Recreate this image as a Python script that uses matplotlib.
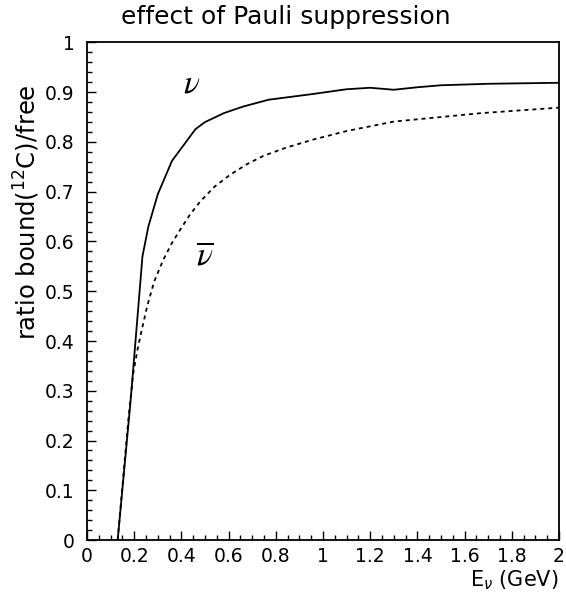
import matplotlib
matplotlib.use("Agg")
import matplotlib.pyplot as plt
from matplotlib.ticker import MultipleLocator, FuncFormatter

# neutrino curve (solid)
nu_E = [0.13, 0.185, 0.235, 0.26, 0.30, 0.36, 0.46, 0.50, 0.58, 0.66, 0.77,
        0.95, 1.10, 1.20, 1.30, 1.40, 1.50, 1.70, 2.00]
nu_R = [0.0, 0.281, 0.570, 0.630, 0.695, 0.762, 0.826, 0.840, 0.858, 0.871, 0.885,
        0.896, 0.906, 0.909, 0.905, 0.910, 0.914, 0.917, 0.919]

# antineutrino curve (dashed)
nubar_E = [0.13, 0.175, 0.196, 0.215, 0.232, 0.255, 0.285, 0.323, 0.36, 0.394,
           0.435, 0.479, 0.54, 0.606, 0.68, 0.747, 0.846, 0.96, 1.10, 1.30,
           1.67, 2.00]
nubar_R = [0.0, 0.241, 0.335, 0.385, 0.422, 0.470, 0.520, 0.563, 0.597, 0.623,
           0.653, 0.680, 0.710, 0.734, 0.756, 0.772, 0.789, 0.805, 0.822, 0.841,
           0.858, 0.869]

fig = plt.figure(figsize=(5.66, 5.95), dpi=100)
ax = fig.add_axes([0.1537, 0.0924, 0.9876 - 0.1537, 0.9286 - 0.0924])

ax.plot(nu_E, nu_R, color="black", lw=1.3)
ax.plot(nubar_E, nubar_R, color="black", lw=1.3, linestyle=(0, (2.2, 2.2)))

ax.set_xlim(0, 2)
ax.set_ylim(0, 1)

ax.xaxis.set_major_locator(MultipleLocator(0.2))
ax.xaxis.set_minor_locator(MultipleLocator(0.05))
ax.yaxis.set_major_locator(MultipleLocator(0.1))
ax.yaxis.set_minor_locator(MultipleLocator(0.02))
fmt = FuncFormatter(lambda v, p: ("%g" % round(v, 3)))
ax.xaxis.set_major_formatter(fmt)
ax.yaxis.set_major_formatter(fmt)

ax.tick_params(which="both", direction="in", top=False, right=False, width=1.0,
               labelsize=13.5)
ax.tick_params(axis="y", which="major", length=6.5, pad=9)
ax.tick_params(axis="x", which="major", length=6.5, pad=5)
ax.tick_params(which="minor", length=3.5)
for s in ax.spines.values():
    s.set_linewidth(1.3)

fig.suptitle("effect of Pauli suppression", fontsize=18, x=0.505, y=0.972,
             va="center")
ax.set_ylabel(r"ratio bound($^{12}$C)/free", fontsize=17.5)
ax.yaxis.set_label_coords(-0.095, 0.66)
ax.set_xlabel(r"E$_\nu$ (GeV)", fontsize=15, loc="right", labelpad=2)

ax.text(0.445, 0.918, r"$\nu$", fontsize=24, math_fontfamily="stix",
        ha="center", va="center")
ax.text(0.50, 0.573, r"$\overline{\nu}$", fontsize=24, math_fontfamily="stix",
        ha="center", va="center")

fig.savefig("out.png", dpi=100)
